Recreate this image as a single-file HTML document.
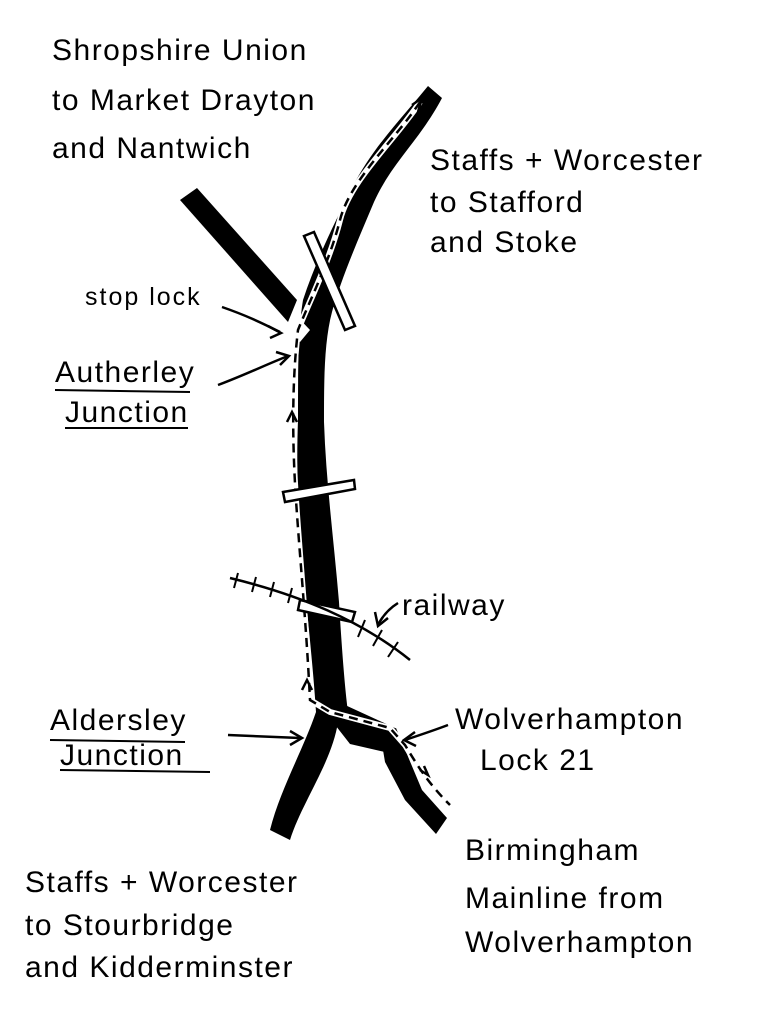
<!DOCTYPE html>
<html><head><meta charset="utf-8"><style>
html,body{margin:0;padding:0;background:#fff;}
svg{display:block}
text{font-family:"Liberation Sans",sans-serif;font-size:30px;letter-spacing:1.5px;fill:#000;}
</style></head><body>
<svg width="760" height="1024" viewBox="0 0 760 1024">
<!-- Shropshire arm -->
<polygon points="180,200 197,188 297,300 288,322" fill="#000"/>
<!-- main canal -->
<path d="M428,86 L442,98 C420,140 392,162 374,202 C357,242 340,282 332,312 C324,342 324,382 324,422 C326,482 334,542 339,602 C342,652 345,690 348,712 L338,722 C332,762 302,802 290,840 L270,830 C280,790 303,750 316,712 C314,680 310,640 306,600 C298,540 296,470 298,420 C298,370 298,330 303,300 C316,260 336,220 352,188 C372,148 402,118 428,86 Z" fill="#000"/>
<!-- junction branch to right -->
<polygon points="325,712 345,705 395,728 385,752 350,744" fill="#000"/>
<polygon points="380,732 396,728 422,790 447,818 436,834 405,800 385,762" fill="#000"/>
<polygon points="293,312 310,330 300,342 286,330" fill="#fff"/>
<!-- dashed route -->
<path d="M420,102 C395,140 350,180 340,220 C330,260 310,300 298,330 C292,380 292,440 296,500 C300,560 306,620 310,700 L330,712 L390,728 L405,745 C420,770 430,785 450,805" fill="none" stroke="#fff" stroke-width="6"/>
<path d="M420,102 C395,140 350,180 340,220 C330,260 310,300 298,330 C292,380 292,440 296,500 C300,560 306,620 310,700 L330,712 L390,728 L405,745 C420,770 430,785 450,805" fill="none" stroke="#000" stroke-width="2.5" stroke-dasharray="9,6"/>
<path d="M412,105 L422,98 L418,112" fill="none" stroke="#000" stroke-width="2.5"/>
<path d="M287,422 L292,412 L297,422" fill="none" stroke="#000" stroke-width="2.5"/>
<path d="M302,690 L307,680 L312,690" fill="none" stroke="#000" stroke-width="2.5"/>
<path d="M420,770 L428,775 L424,766" fill="none" stroke="#000" stroke-width="2.5"/>
<!-- bridge top -->
<polygon points="304,236 314,232 355,326 345,330" fill="#fff" stroke="#000" stroke-width="2.5"/>
<!-- bridge middle -->
<polygon points="283,492 354,480 355,489 285,502" fill="#fff" stroke="#000" stroke-width="2.5"/>
<!-- railway -->
<polygon points="300,600 355,612 352,622 298,610" fill="#fff" stroke="#000" stroke-width="2.5"/>
<path d="M230,578 C300,595 360,620 410,660" fill="none" stroke="#000" stroke-width="2.5"/>
<g stroke="#000" stroke-width="2">
<line x1="238" y1="573" x2="234" y2="588"/><line x1="256" y1="577" x2="252" y2="592"/><line x1="274" y1="582" x2="270" y2="597"/>
<line x1="292" y1="588" x2="288" y2="603"/><line x1="365" y1="620" x2="358" y2="637"/><line x1="382" y1="630" x2="373" y2="646"/>
<line x1="398" y1="642" x2="388" y2="657"/></g>
<!-- pointer arrows -->
<g fill="none" stroke="#000" stroke-width="2.5">
<path d="M222,307 C245,315 260,322 280,332"/><path d="M268,326 L281,333 L270,338"/>
<path d="M218,385 C245,375 265,365 288,356"/><path d="M276,352 L289,356 L280,365"/>
<path d="M398,603 C390,608 383,615 378,625"/><path d="M375,612 L378,626 L388,618"/>
<path d="M228,735 L300,738"/><path d="M290,731 L302,738 L290,745"/>
<path d="M448,725 C435,730 420,735 405,740"/><path d="M415,732 L404,740 L416,746"/>
</g>
<!-- underlines -->
<line x1="55" y1="390" x2="190" y2="392" stroke="#000" stroke-width="2"/>
<line x1="65" y1="428" x2="188" y2="428" stroke="#000" stroke-width="2"/>
<line x1="50" y1="740" x2="185" y2="742" stroke="#000" stroke-width="2"/>
<line x1="60" y1="770" x2="210" y2="772" stroke="#000" stroke-width="2"/>
<!-- labels -->
<text x="52" y="60">Shropshire Union</text>
<text x="52" y="110">to Market Drayton</text>
<text x="52" y="158">and Nantwich</text>
<text x="430" y="170">Staffs + Worcester</text>
<text x="430" y="212">to Stafford</text>
<text x="430" y="252">and Stoke</text>
<text x="85" y="305" style="font-size:25px;letter-spacing:2px">stop lock</text>
<text x="55" y="382">Autherley</text>
<text x="65" y="422">Junction</text>
<text x="402" y="615">railway</text>
<text x="50" y="730">Aldersley</text>
<text x="60" y="765">Junction</text>
<text x="455" y="729">Wolverhampton</text>
<text x="480" y="770">Lock 21</text>
<text x="465" y="860">Birmingham</text>
<text x="465" y="908">Mainline from</text>
<text x="465" y="952">Wolverhampton</text>
<text x="25" y="892">Staffs + Worcester</text>
<text x="25" y="935">to Stourbridge</text>
<text x="25" y="977">and Kidderminster</text>
</svg>
</body></html>
